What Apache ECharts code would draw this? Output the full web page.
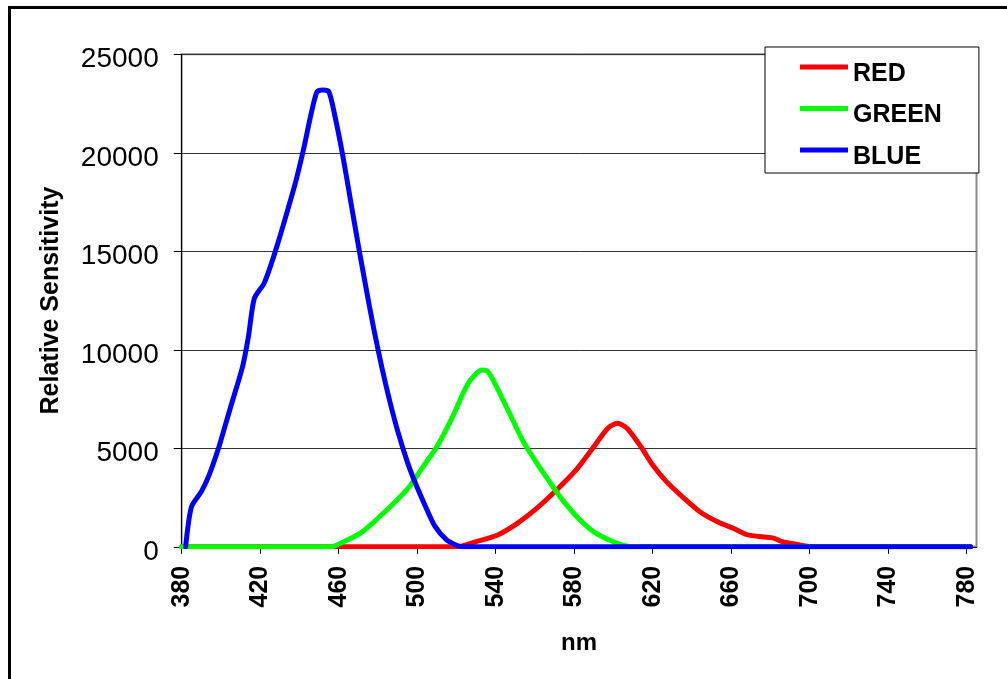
<!DOCTYPE html>
<html>
<head>
<meta charset="utf-8">
<script src="https://cdn.jsdelivr.net/npm/echarts@6/dist/echarts.min.js"></script>
<style>
  html, body { margin: 0; padding: 0; background: #fff; }
  #chart { width: 1007px; height: 679px; }
</style>
</head>
<body>
<div id="chart"></div>
<script>
// Spectral sensitivity of the three colour channels (wavelength in nm, relative sensitivity)
const redNm   = [380, 520, 530, 541, 551, 561, 571, 581, 590, 597, 602, 607, 614, 620, 627, 636, 644, 653, 661, 668, 678, 682, 686, 693, 701, 782];
const redVal  = [0, 0, 260, 600, 1190, 1960, 2880, 3900, 5080, 6010, 6270, 6010, 5080, 4150, 3310, 2460, 1780, 1270, 940, 620, 480, 430, 260, 130, 0, 0];

const greenNm  = [380, 456, 461, 471, 479, 488, 496, 503, 510, 518, 526, 533, 536, 540, 547, 554, 561, 568, 574, 583, 591, 602, 610, 782];
const greenVal = [0, 0, 180, 690, 1360, 2210, 3050, 4070, 5080, 6600, 8300, 8970, 8890, 8210, 6780, 5350, 4240, 3220, 2380, 1360, 690, 180, 0, 0];

const blueNm  = [382, 385, 390, 394, 399, 402, 406, 411, 414, 417, 422, 426, 430, 434, 438, 442, 446, 449, 452, 455, 458, 462, 466, 470, 474, 478, 482, 486, 490, 495, 499, 504, 509, 515, 520, 523, 782];
const blueVal = [0, 2040, 2800, 3650, 5080, 6100, 7450, 9140, 10670, 12600, 13380, 14470, 15740, 17100, 18500, 20140, 22000, 23100, 23190, 23100, 21900, 19900, 17600, 15300, 13100, 11000, 9100, 7400, 5900, 4300, 3250, 2100, 1050, 350, 80, 0, 0];

const xTicks = [380, 420, 460, 500, 540, 580, 620, 660, 700, 740, 780];
const yTicks = [0, 5000, 10000, 15000, 20000, 25000];

const seriesNames  = ['RED', 'GREEN', 'BLUE'];
const seriesColors = ['#ff0000', '#00ff00', '#0000ff'];

const FONT = '"Liberation Sans", Arial, sans-serif';

// legend key: a short thick bar sitting near the top of a taller key box
const LEGEND_KEY = 'path://M0 0L48 0L48 5L0 5Z M0 19L48 19Z';

function pairs(xs, ys) {
  return xs.map((x, i) => [x, ys[i]]);
}

const seriesData = [pairs(redNm, redVal), pairs(greenNm, greenVal), pairs(blueNm, blueVal)];

const chart = echarts.init(document.getElementById('chart'), null, { renderer: 'canvas' });

chart.setOption({
  backgroundColor: '#ffffff',
  animation: false,
  graphic: [{
    type: 'rect',
    z: 100,
    silent: true,
    shape: { x: 9.5, y: 7.5, width: 1010, height: 700 },
    style: { fill: 'none', stroke: '#000', lineWidth: 3 }
  }],
  grid: {
    left: 181.7,
    top: 54.3,
    right: 30.5,
    bottom: 132.2,
    show: true,
    borderColor: '#8a8a8a',
    borderWidth: 2,
    backgroundColor: '#ffffff'
  },
  legend: {
    orient: 'vertical',
    left: 765,
    top: 47,
    padding: [13, 37, 2, 35],
    itemGap: 13.5,
    itemWidth: 48,
    itemHeight: 19,
    icon: LEGEND_KEY,
    itemStyle: { borderWidth: 0 },
    backgroundColor: '#ffffff',
    borderColor: '#000000',
    borderWidth: 1,
    selectedMode: false,
    data: seriesNames,
    textStyle: {
      fontFamily: FONT,
      fontSize: 25,
      fontWeight: 'bold',
      color: '#000',
      lineHeight: 28
    }
  },
  xAxis: {
    type: 'value',
    min: 380,
    max: 785,
    interval: 40,
    name: 'nm',
    nameLocation: 'middle',
    nameGap: 85,
    nameTextStyle: { fontFamily: FONT, fontSize: 24, fontWeight: 'bold', color: '#000' },
    axisLine: { show: true, onZero: false, lineStyle: { color: '#000', width: 1 } },
    axisTick: { show: true, inside: false, length: 7, customValues: xTicks, lineStyle: { color: '#000' } },
    axisLabel: {
      customValues: xTicks,
      rotate: 90,
      margin: 19,
      fontFamily: FONT,
      fontSize: 25,
      fontWeight: 'bold',
      color: '#000'
    },
    splitLine: { show: false }
  },
  yAxis: {
    type: 'value',
    min: 0,
    max: 25000,
    interval: 5000,
    name: 'Relative Sensitivity',
    nameLocation: 'middle',
    nameRotate: 90,
    nameGap: 118,
    nameTextStyle: { fontFamily: FONT, fontSize: 25, fontWeight: 'bold', color: '#000' },
    axisLine: { show: true, lineStyle: { color: '#000', width: 1 } },
    axisTick: { show: true, inside: false, length: 8, lineStyle: { color: '#000' } },
    axisLabel: {
      customValues: yTicks,
      margin: 23,
      formatter: function (value) { return '{v|' + String(value) + '}'; },
      rich: {
        v: {
          fontFamily: FONT,
          fontSize: 28,
          color: '#000',
          lineHeight: 30,
          padding: [10, 0, 0, 0]
        }
      }
    },
    splitLine: { show: true, lineStyle: { color: '#333333', width: 1 } }
  },
  series: seriesNames.map((name, i) => ({
    name: name,
    type: 'line',
    data: seriesData[i],
    showSymbol: false,
    symbol: 'none',
    smooth: 0.25,
    clip: true,
    color: seriesColors[i],
    itemStyle: { color: seriesColors[i] },
    lineStyle: { color: seriesColors[i], width: 5, join: 'round', cap: 'round' },
    z: 2 + i
  }))
});
</script>
</body>
</html>
